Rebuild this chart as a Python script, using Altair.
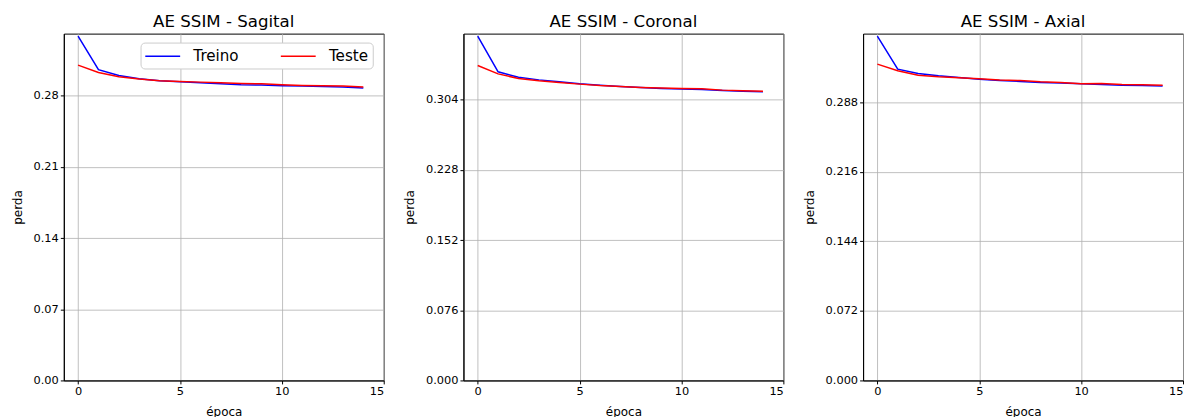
import altair as alt
import pandas as pd

epochs = list(range(15))

sagital_treino = [0.3385, 0.3055, 0.2999, 0.2966, 0.2946, 0.2937, 0.2927, 0.2917,
                  0.2908, 0.2904, 0.2897, 0.2894, 0.2891, 0.2884, 0.2875]
sagital_teste = [0.3100, 0.3028, 0.2986, 0.2963, 0.2946, 0.2940, 0.2933, 0.2927,
                 0.2920, 0.2917, 0.2907, 0.2901, 0.2897, 0.2894, 0.2884]

coronal_treino = [0.3730, 0.3342, 0.3284, 0.3255, 0.3234, 0.3213, 0.3198, 0.3184,
                  0.3173, 0.3162, 0.3155, 0.3151, 0.3141, 0.3133, 0.3126]
coronal_teste = [0.3410, 0.3320, 0.3270, 0.3245, 0.3227, 0.3209, 0.3194, 0.3184,
                 0.3173, 0.3166, 0.3162, 0.3159, 0.3144, 0.3137, 0.3133]

axial_treino = [0.3562, 0.3220, 0.3176, 0.3152, 0.3134, 0.3117, 0.3103, 0.3093,
                0.3083, 0.3076, 0.3069, 0.3062, 0.3055, 0.3052, 0.3045]
axial_teste = [0.3272, 0.3203, 0.3158, 0.3141, 0.3131, 0.3121, 0.3107, 0.3103,
               0.3090, 0.3083, 0.3069, 0.3072, 0.3062, 0.3059, 0.3055]

titles = ["AE SSIM - Sagital", "AE SSIM - Coronal", "AE SSIM - Axial"]
ymax = [0.341, 0.3756, 0.3588]
yticks = [
    [0.00, 0.07, 0.14, 0.21, 0.28],
    [0.000, 0.076, 0.152, 0.228, 0.304],
    [0.000, 0.072, 0.144, 0.216, 0.288],
]
yformats = [".2f", ".3f", ".3f"]
xticks = [0, 5, 10, 15]
series = ["Treino", "Teste"]
colors = ["#0000ff", "#ff0000"]

FONT = "DejaVu Sans"


def panel(i, treino, teste, show_legend):
    df = pd.DataFrame({
        "época": epochs + epochs,
        "perda": treino + teste,
        "série": ["Treino"] * len(epochs) + ["Teste"] * len(epochs),
        "ordem": [0] * len(epochs) + [1] * len(epochs),
    })
    if show_legend:
        legend = alt.Legend(
            title=None, orient="none", legendX=77, legendY=9,
            direction="horizontal", columns=2,
            fillColor="white", strokeColor="#cccccc", cornerRadius=4,
            padding=4, symbolType="M-1,0H3", symbolSize=306,
            symbolStrokeWidth=1.5, labelFontSize=15.2, labelFont=FONT,
            labelColor="black", columnPadding=38, labelOffset=30,
        )
    else:
        legend = None
    return alt.Chart(df).mark_line(strokeWidth=1.5).encode(
        x=alt.X("época:Q",
                scale=alt.Scale(domain=[-0.7, 15], nice=False, zero=False),
                axis=alt.Axis(values=xticks, title="época", format="d")),
        y=alt.Y("perda:Q",
                scale=alt.Scale(domain=[0, ymax[i]], nice=False),
                axis=alt.Axis(values=yticks[i], format=yformats[i], title="perda")),
        color=alt.Color("série:N",
                        scale=alt.Scale(domain=series, range=colors),
                        legend=legend),
        detail="ordem:N",
    ).properties(width=321, height=348, title=titles[i])


chart = alt.hconcat(
    panel(0, sagital_treino, sagital_teste, True),
    panel(1, coronal_treino, coronal_teste, False),
    panel(2, axial_treino, axial_teste, False),
    spacing=80, bounds="flush",
).resolve_legend(color="independent").resolve_scale(color="independent").properties(
    padding={"left": 2, "top": 5, "right": 0, "bottom": 0}
).configure_view(
    stroke="black", strokeWidth=1
).configure_axis(
    domainColor="black", domainWidth=1, tickColor="black", tickSize=3.5, tickWidth=1,
    labelColor="black", labelFont=FONT, labelFontSize=11.4, labelPadding=2,
    titleColor="black", titleFont=FONT, titleFontSize=12, titleFontWeight="normal",
    gridColor="#b0b0b0", gridWidth=0.8,
).configure_axisX(
    titlePadding=9
).configure_axisY(
    titlePadding=9
).configure_title(
    font=FONT, fontSize=16.7, fontWeight="normal", color="black", anchor="middle", offset=2
).configure_legend(
    labelFont=FONT
)

chart.save("out.html", embed_options={"renderer": "svg", "actions": False})
